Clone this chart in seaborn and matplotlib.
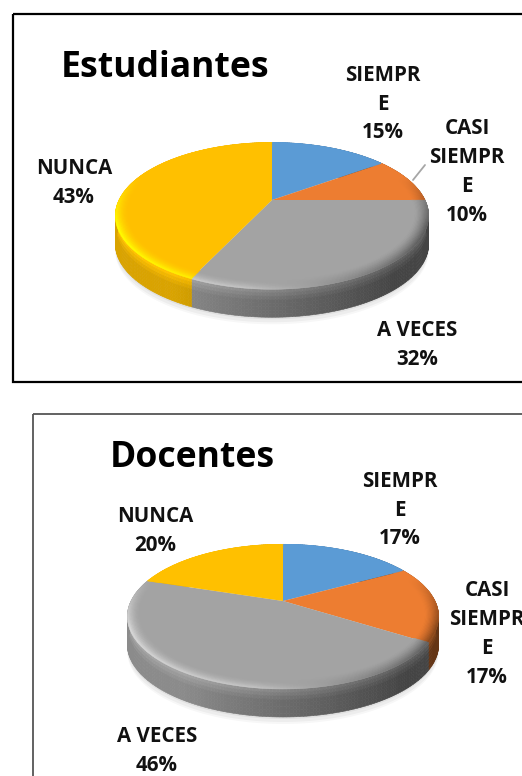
import numpy as np
import matplotlib
matplotlib.use("Agg")
import matplotlib.pyplot as plt
import seaborn as sns
from matplotlib.collections import PolyCollection
from matplotlib.patches import Rectangle
from matplotlib.transforms import Transform

# data
categorias = ["SIEMPRE", "CASI SIEMPRE", "A VECES", "NUNCA"]
estudiantes = [15, 10, 32, 43]
docentes = [17, 17, 46, 20]
colores = ["#5b9bd5", "#ed7d31", "#a3a3a3", "#ffc000"]

sns.set_theme(style="white")
plt.rcParams["font.family"] = ["Open Sans", "DejaVu Sans"]

W, H = 522, 776
TILT = 0.216
DEPTH = 28


class Persp(Transform):
    # unit circle -> tilted disc in pixel coordinates
    input_dims = 2
    output_dims = 2

    def __init__(self, cx, cy, b, a):
        super().__init__()
        self.cx, self.cy, self.b, self.a = cx, cy, b, a

    def transform_non_affine(self, xy):
        xy = np.asarray(xy, dtype=float)
        d = 1 + TILT * xy[:, 1]
        return np.column_stack([self.cx + self.b * xy[:, 0] / d,
                                self.cy - self.a * xy[:, 1] / d])


def rim(r, ang):
    return np.column_stack([r * np.sin(ang), r * np.cos(ang)])


def draw_pie(ax, values, cx, cy, b, a):
    persp = Persp(cx, cy, b, a)
    rgb = np.array(sns.color_palette(colores))
    edges = np.cumsum(values) / np.sum(values)

    ang = np.radians(np.arange(0, 361, 1.0))
    t0, t1 = ang[:-1], ang[1:]
    mid = (t0 + t1) / 2
    idx = np.clip(np.searchsorted(edges, mid / (2 * np.pi)), 0, len(values) - 1)
    base = rgb[idx]
    sx, sy = np.sin(mid), np.cos(mid)

    # soft shadow under the disc
    for off, alpha in [(DEPTH + 7, 0.03), (DEPTH + 5, 0.04), (DEPTH + 2, 0.05)]:
        pts = persp.transform(rim(1.0, ang)) + [0, off]
        ax.fill(pts[:, 0], pts[:, 1], color="black", alpha=alpha, lw=0, zorder=1)

    # side wall, light on the left and dark on the right
    polys, cols = [], []
    levels = 8
    for k in range(levels):
        z0, z1 = DEPTH * k / levels, DEPTH * (k + 1) / levels
        top0 = persp.transform(rim(1.0, t0))
        top1 = persp.transform(rim(1.0, t1))
        for i in range(len(t0)):
            polys.append([top0[i] + [0, z0], top1[i] + [0, z0],
                          top1[i] + [0, z1], top0[i] + [0, z1]])
        shade = np.clip(0.66 - 0.36 * sx, 0.42, 0.85) + 0.15 * max(0, 1 - k / (levels * 0.35))
        cols.append(base * shade[:, None])
    cols = np.clip(np.vstack(cols), 0, 1)
    ax.add_collection(PolyCollection(polys, facecolors=cols, edgecolors=cols,
                                     linewidths=0.4, zorder=2))

    wedges, _ = ax.pie(values, colors=colores, startangle=90, counterclock=False,
                       wedgeprops={"linewidth": 0, "edgecolor": "none"})
    for w in wedges:
        w.set_transform(persp + ax.transData)
        w.set_zorder(3)

    # bevel along the front of the disc
    polys, cols = [], []
    radii = np.linspace(0.91, 1.0, 13)
    weight = np.clip((0.35 - sy) / 0.7, 0, 1)
    for r0, r1 in zip(radii[:-1], radii[1:]):
        s = (r0 - radii[0]) / (radii[-1] - radii[0])
        in0, in1 = persp.transform(rim(r0, t0)), persp.transform(rim(r0, t1))
        out0, out1 = persp.transform(rim(r1, t0)), persp.transform(rim(r1, t1))
        for i in range(len(t0)):
            polys.append([in0[i], in1[i], out1[i], out0[i]])
        gain = 0.2 * s ** 2 * (1 - sx) - 0.5 * s ** 1.5 * np.clip(sx + 0.15, 0, 1)
        cols.append(base * (1 + weight * gain)[:, None])
    cols = np.clip(np.vstack(cols), 0, 1)
    ax.add_collection(PolyCollection(polys, facecolors=cols, edgecolors=cols,
                                     linewidths=0.3, zorder=4))


fig = plt.figure(figsize=(W / 100, H / 100), dpi=100, facecolor="white")
ax = fig.add_axes([0, 0, 1, 1])

draw_pie(ax, estudiantes, 272, 200, 153, 70)
draw_pie(ax, docentes, 283, 601, 152, 69)

ax.set_aspect("auto")
ax.set_xlim(0, W)
ax.set_ylim(H, 0)
ax.axis("off")

# frames run off the right side of the image
ax.add_patch(Rectangle((13, 14), 540, 368, fill=False, ec="black", lw=1.6, zorder=5))
ax.add_patch(Rectangle((33, 414), 520, 400, fill=False, ec="#555555", lw=1.3, zorder=5))

ax.text(165, 68, "Estudiantes", fontsize=25.6, fontweight="bold", ha="center", va="center", color="black", zorder=6)
ax.text(192, 458, "Docentes", fontsize=25.6, fontweight="bold", ha="center", va="center", color="black", zorder=6)

etiquetas = [
    (383, 104, "SIEMPR\nE\n15%"), (467, 172, "CASI\nSIEMPR\nE\n10%"),
    (74, 183, "NUNCA\n43%"), (417, 345, "A VECES\n32%"),
    (400, 510, "SIEMPR\nE\n17%"), (487, 634, "CASI\nSIEMPR\nE\n17%"),
    (155, 531, "NUNCA\n20%"), (157, 751, "A VECES\n46%"),
]
for x, y, txt in etiquetas:
    ax.text(x, y, txt, fontsize=14.8, fontweight="bold", ha="center", va="center",
            linespacing=1.48, color="#111111", zorder=6)

ax.plot([425, 413], [165, 180], color="#a6a6a6", lw=1.3, zorder=6)

fig.savefig("out.png", dpi=100)
